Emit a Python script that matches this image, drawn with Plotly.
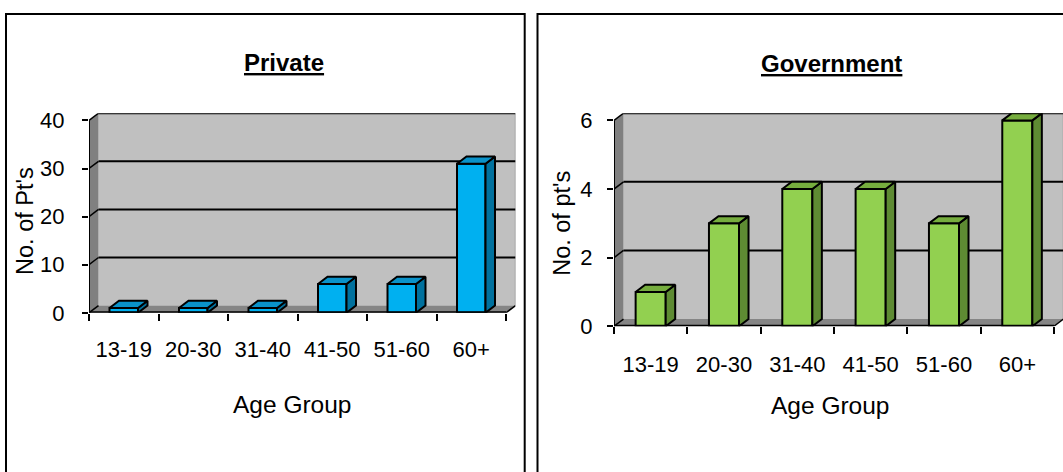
import plotly.graph_objects as go

# ---------------- data ----------------
categories = ["13-19", "20-30", "31-40", "41-50", "51-60", "60+"]
private_counts = [1, 1, 1, 6, 6, 31]
government_counts = [1, 3, 4, 4, 3, 6]
private_yticks = [0, 10, 20, 30, 40]
government_yticks = [0, 2, 4, 6]
titles = ["Private", "Government"]
y_titles = ["No. of Pt's", "No. of pt's"]
x_title = "Age Group"

# ---------------- styling / layout constants ----------------
W, H = 1063, 472
OFF = 0                    # body margin is removed in the page (see write_html)
FONT = "Arial, 'Liberation Sans', Helvetica, sans-serif"
WALL = "#C0C0C0"
SIDE_WALL = "#808080"
FLOOR = "#858585"
DEPTH_PX = (9.5, 7.5)      # 3-D depth offset in pixels (right, up)
BAR_W = 0.41
EDGE_W = 2

panels = [
    dict(values=private_counts, yticks=private_yticks, ymax=40,
         x0=89, cat=69.5, y0=320, ytop=120,
         front="#00B0F0", side="#00719E", top="#0A92C9",
         title=titles[0], ytitle=y_titles[0],
         title_xy=(283.5, 60), xt_xy=(292, 415), yt_xy=(25.5, 225),
         border=(6, 9.3, 524.7, 490), xstand=21, ystand=13),
    dict(values=government_counts, yticks=government_yticks, ymax=6,
         x0=614, cat=73.33, y0=334, ytop=120,
         front="#92D050", side="#5E8B33", top="#76AD3E",
         title=titles[1], ytitle=y_titles[1],
         title_xy=(831.5, 60.5), xt_xy=(830, 416.5), yt_xy=(562, 227.5),
         border=(537.5, 9.3, 1080, 490), xstand=23, ystand=10),
]

fig = go.Figure()
shapes = []
annotations = []
idx = list(range(len(categories)))


def px_x(p):
    return (p - OFF) / W


def px_y(p):
    return 1 - (p - OFF) / H


def path(pts):
    return "M " + " L ".join(f"{a},{b}" for a, b in pts) + " Z"


for k, p in enumerate(panels):
    n = k + 1
    xa = "x" if n == 1 else f"x{n}"
    ya = "y" if n == 1 else f"y{n}"
    ppu_y = (p["y0"] - p["ytop"]) / p["ymax"]
    ddx = DEPTH_PX[0] / p["cat"]
    ddy = DEPTH_PX[1] / ppu_y
    right_px = min(p["x0"] + len(categories) * p["cat"] + DEPTH_PX[0], W + OFF)
    xr1 = -0.5 + (right_px - p["x0"]) / p["cat"]
    top_px = p["ytop"] - DEPTH_PX[1]
    xl, xr = -0.5, len(categories) - 0.5
    ymax = p["ymax"]

    axis_common = dict(showgrid=False, zeroline=False, showline=False, fixedrange=True)
    fig.update_layout(**{
        ("xaxis" if n == 1 else f"xaxis{n}"): dict(
            domain=[px_x(p["x0"]), px_x(right_px)], range=[xl, xr1],
            anchor=ya, tickmode="array", tickvals=idx, ticktext=categories,
            ticks="", tickfont=dict(size=22, color="black", family=FONT),
            ticklabelstandoff=p["xstand"],
            minor=dict(ticks="outside", tickmode="linear", tick0=-0.5, dtick=1,
                       ticklen=7, tickwidth=2, tickcolor="black", showgrid=False),
            **axis_common),
        ("yaxis" if n == 1 else f"yaxis{n}"): dict(
            domain=[px_y(p["y0"]), px_y(top_px)], range=[0, ymax + ddy],
            anchor=xa, tickmode="array", tickvals=p["yticks"],
            ticks="outside", ticklen=6, tickwidth=2, tickcolor="black",
            tickfont=dict(size=22, color="black", family=FONT),
            ticklabelstandoff=p["ystand"],
            **axis_common),
    })

    # ---- walls and floor (below traces) ----
    shapes.append(dict(type="rect", xref=xa, yref=ya, layer="below",
                       x0=xl + ddx, x1=xr + ddx, y0=ddy, y1=ymax + ddy,
                       fillcolor=WALL, line=dict(width=0)))
    shapes.append(dict(type="path", xref=xa, yref=ya, layer="below",
                       path=path([(xl, 0), (xl, ymax), (xl + ddx, ymax + ddy), (xl + ddx, ddy)]),
                       fillcolor=SIDE_WALL, line=dict(width=0)))
    shapes.append(dict(type="path", xref=xa, yref=ya, layer="below",
                       path=path([(xl, 0), (xr, 0), (xr + ddx, ddy), (xl + ddx, ddy)]),
                       fillcolor=FLOOR, line=dict(width=0)))
    # right edge of back wall
    shapes.append(dict(type="line", xref=xa, yref=ya, layer="below",
                       x0=xr + ddx, x1=xr + ddx, y0=ddy, y1=ymax + ddy,
                       line=dict(color="#9A9A9A", width=1.5)))
    # gridlines on back wall + diagonals on side wall
    for t in p["yticks"]:
        if t > 0:
            shapes.append(dict(type="line", xref=xa, yref=ya, layer="below",
                               x0=xl + ddx, x1=xr + ddx, y0=t + ddy, y1=t + ddy,
                               line=dict(color="black", width=2)))
        shapes.append(dict(type="line", xref=xa, yref=ya, layer="below",
                           x0=xl, x1=xl + ddx, y0=t, y1=t + ddy,
                           line=dict(color="black", width=1.5)))
    # floor right edge diagonal
    shapes.append(dict(type="line", xref=xa, yref=ya, layer="below",
                       x0=xr, x1=xr + ddx, y0=0, y1=ddy,
                       line=dict(color="black", width=1.5)))
    # front axis lines (above)
    shapes.append(dict(type="line", xref=xa, yref=ya, layer="above",
                       x0=xl, x1=xl, y0=0, y1=ymax, line=dict(color="black", width=2)))
    shapes.append(dict(type="line", xref=xa, yref=ya, layer="above",
                       x0=xl, x1=xr, y0=0, y1=0, line=dict(color="black", width=3)))

    # ---- bars: front faces ----
    fig.add_trace(go.Bar(x=idx, y=p["values"], width=BAR_W, xaxis=xa, yaxis=ya,
                         marker=dict(color=p["front"], line=dict(color="black", width=EDGE_W)),
                         hoverinfo="skip", showlegend=False))
    # ---- top and side faces ----
    tx, ty, sx, sy = [], [], [], []
    for i, v in zip(idx, p["values"]):
        a, b = i - BAR_W / 2, i + BAR_W / 2
        tx += [a, b, b + ddx, a + ddx, a, None]
        ty += [v, v, v + ddy, v + ddy, v, None]
        sx += [b, b, b + ddx, b + ddx, b, None]
        sy += [0, v, v + ddy, ddy, 0, None]
    fig.add_trace(go.Scatter(x=sx, y=sy, xaxis=xa, yaxis=ya, mode="lines",
                             fill="toself", fillcolor=p["side"],
                             line=dict(color="black", width=EDGE_W),
                             hoverinfo="skip", showlegend=False))
    fig.add_trace(go.Scatter(x=tx, y=ty, xaxis=xa, yaxis=ya, mode="lines",
                             fill="toself", fillcolor=p["top"],
                             line=dict(color="black", width=EDGE_W),
                             hoverinfo="skip", showlegend=False))

    # ---- panel border ----
    bx0, by0, bx1, by1 = p["border"]
    shapes.append(dict(type="rect", xref="paper", yref="paper", layer="above",
                       x0=px_x(bx0), x1=px_x(bx1), y0=px_y(by1), y1=px_y(by0),
                       line=dict(color="black", width=2), fillcolor="rgba(0,0,0,0)"))

    # ---- text ----
    annotations.append(dict(text=f"<b>{p['title']}</b>", xref="paper", yref="paper",
                            x=px_x(p["title_xy"][0]), y=px_y(p["title_xy"][1]),
                            xanchor="center", yanchor="middle", showarrow=False,
                            font=dict(size=24, color="black", family=FONT, lineposition="under")))
    annotations.append(dict(text=x_title, xref="paper", yref="paper",
                            x=px_x(p["xt_xy"][0]), y=px_y(p["xt_xy"][1]),
                            xanchor="center", yanchor="middle", showarrow=False,
                            font=dict(size=24.5, color="black", family=FONT)))
    annotations.append(dict(text=p["ytitle"], xref="paper", yref="paper",
                            x=px_x(p["yt_xy"][0]), y=px_y(p["yt_xy"][1]),
                            xanchor="center", yanchor="middle", showarrow=False,
                            textangle=-90,
                            font=dict(size=23.5, color="black", family=FONT)))

fig.update_layout(width=W, height=H, margin=dict(l=0, r=0, t=0, b=0),
                  paper_bgcolor="white", plot_bgcolor="white",
                  barmode="overlay", showlegend=False,
                  shapes=shapes, annotations=annotations,
                  font=dict(family=FONT, color="black"))

fig.write_html("out.html",
               config={"displayModeBar": False, "staticPlot": True},
               post_script="document.body.style.margin='0px';"
                           "document.documentElement.style.overflow='hidden';")
